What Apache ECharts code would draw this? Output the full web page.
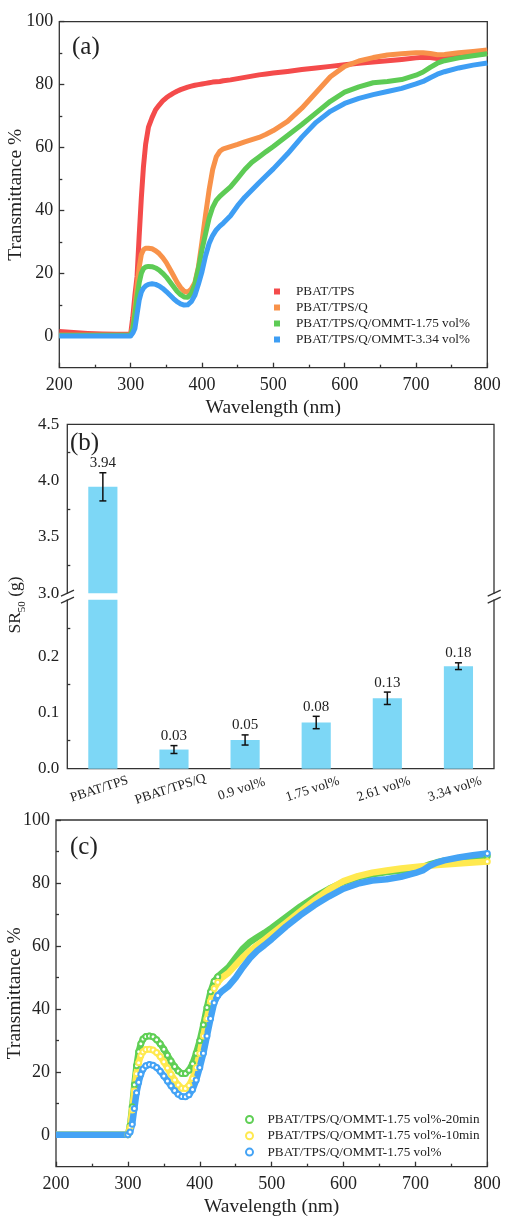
<!DOCTYPE html>
<html>
<head>
<meta charset="utf-8">
<script src="https://cdn.jsdelivr.net/npm/echarts@6/dist/echarts.min.js"></script>
<style>
  html, body { margin: 0; padding: 0; background: #fff; }
  #chart { width: 505px; height: 1217px; }
</style>
</head>
<body>
<div id="chart"></div>
<script>
let serif = '"Liberation Serif", "Times New Roman", serif';
let ink = '#222';
let frame = '#333';

// wavelength sampling shared by panels (a) and (c), nm
const wavelengths = [200, 220, 240, 260, 280, 300, 303, 306, 309, 312, 315, 318, 321,
  325, 330, 335, 340, 345, 350, 355, 360, 365, 370, 375, 380, 385, 390, 395, 400, 405,
  410, 415, 420, 425, 430, 440, 450, 460, 470, 480, 490, 500, 520, 540, 560, 580, 600,
  620, 640, 660, 680, 700, 710, 720, 730, 740, 760, 780, 800];

const transLabels = [0, 20, 40, 60, 80, 100];
const transMinor = [10, 30, 50, 70, 90];

// (a) transmittance %
const namesA = ['PBAT/TPS', 'PBAT/TPS/Q', 'PBAT/TPS/Q/OMMT-1.75 vol%', 'PBAT/TPS/Q/OMMT-3.34 vol%'];
const colorsA = ['#F44B4B', '#F8924A', '#5DCB55', '#3E9EF4'];
const pbatTps = [1.5, 1.2, 0.9, 0.7, 0.6, 0.6, 6, 13, 19, 32, 44, 54, 61,
  66.5, 69.5, 72, 73.5, 74.8, 75.8, 76.6, 77.3, 77.9, 78.4, 78.8, 79.2, 79.5, 79.8, 80, 80.2, 80.4,
  80.6, 80.8, 80.9, 81, 81.2, 81.5, 81.9, 82.3, 82.7, 83.1, 83.4, 83.7, 84.2, 84.8, 85.3, 85.8, 86.3,
  86.8, 87.2, 87.6, 88, 88.5, 88.7, 88.6, 88.3, 88.3, 88.8, 89.4, 90];
const pbatTpsQ = [0.3, 0.3, 0.3, 0.3, 0.3, 0.3, 3, 9, 16, 22, 26, 27.5, 28,
  28, 27.8, 27.2, 26.3, 25, 23.4, 21.4, 19.3, 17.2, 15.5, 14.3, 14, 15, 17, 22, 30, 38.5,
  46.5, 53, 57, 58.8, 59.6, 60.3, 61, 61.8, 62.5, 63.2, 64.2, 65.4, 68.3, 72.5, 77.5, 82.5, 85.8,
  87.5, 88.6, 89.4, 89.8, 90.1, 90.1, 89.9, 89.5, 89.6, 90.1, 90.5, 91];
const ommt175 = [0.3, 0.3, 0.3, 0.3, 0.3, 0.3, 2.5, 7, 12.5, 17, 20, 21.5, 22,
  22.2, 22.1, 21.7, 21, 20, 18.8, 17.3, 15.8, 14.3, 13.2, 12.5, 12.4, 13.5, 16.5, 21.5, 27.5, 32.5,
  37.5, 41, 43.2, 44.5, 45.5, 47.5, 50.2, 53, 55.3, 57, 58.7, 60.3, 63.8, 67.3, 71, 74.7, 77.6,
  79.3, 80.6, 81, 81.6, 83, 84, 85.5, 86.8, 87.6, 88.5, 89.2, 89.8];
const ommt334 = [0.1, 0.1, 0.1, 0.1, 0.1, 0.1, 1, 2.5, 7, 11.5, 14, 15.3, 16,
  16.5, 16.7, 16.5, 16, 15.2, 14.2, 13.1, 12, 11, 10.3, 9.9, 10, 11, 13, 16.5, 20.5, 25.5,
  29.5, 32, 33.8, 35, 36, 38.3, 41.5, 44.2, 46.5, 48.8, 51, 53.2, 58, 63.3, 68, 71.5, 74,
  75.6, 76.8, 77.8, 78.8, 80.2, 81, 82.2, 83.3, 84.1, 85.3, 86.2, 86.9];

// (c) transmittance % ; trailing space keeps the last name distinct from panel (a)
const namesC = ['PBAT/TPS/Q/OMMT-1.75 vol%-20min', 'PBAT/TPS/Q/OMMT-1.75 vol%-10min', 'PBAT/TPS/Q/OMMT-1.75 vol% '];
const colorsC = ['#5FCF55', '#FFE94F', '#44A3F5'];
const min20 = [0.1, 0.1, 0.1, 0.1, 0.1, 0.1, 3, 9, 16, 22, 26.5, 29, 30.5,
  31.3, 31.5, 31.2, 30.3, 29, 27.3, 25.4, 23.5, 21.8, 20.4, 19.6, 19.6, 20.6, 22.7, 26, 30, 35,
  40.5, 45.5, 48.8, 50.3, 51.3, 53.3, 56.3, 59.2, 61.3, 62.8, 64.2, 65.8, 69.2, 72.6, 75.6, 78.2, 80.3,
  81.8, 82.8, 83.5, 84, 84.6, 85.1, 85.9, 86.6, 87.1, 87.7, 88.2, 88.6];
const min10 = [0.1, 0.1, 0.1, 0.1, 0.1, 0.1, 2.5, 8, 14, 19.5, 23, 25.3, 26.5,
  27.2, 27.3, 27, 26.2, 25, 23.3, 21.3, 19.3, 17.5, 15.9, 14.9, 14.8, 15.8, 18, 21.5, 26, 31.5,
  37, 42.5, 46.5, 48.5, 49.8, 51.5, 54, 56.5, 58.5, 60.3, 62, 63.8, 67.4, 71, 74.6, 78, 80.6,
  82.2, 83.3, 84, 84.6, 85.1, 85.3, 85.5, 85.7, 85.9, 86.2, 86.5, 86.8];
const min0 = [0.1, 0.1, 0.1, 0.1, 0.1, 0.1, 1, 3.5, 8.5, 13.5, 16.8, 19.3, 21,
  22, 22.4, 22.2, 21.5, 20.3, 18.8, 17.2, 15.7, 14.2, 13, 12.3, 12.2, 12.8, 14.5, 17.5, 21.5, 26,
  31.5, 37, 42, 44.3, 45.5, 47.3, 50, 53.3, 56.2, 58.5, 60.3, 62.2, 66.2, 69.8, 73, 75.8, 78.2,
  79.8, 80.8, 81.2, 82, 83.2, 84, 85.5, 86.5, 87.2, 88.1, 88.8, 89.4];

// (b) SR50 bars
const barCategories = ['PBAT/TPS', 'PBAT/TPS/Q', '0.9 vol%', '1.75 vol%', '2.61 vol%', '3.34 vol%'];
const sr50 = [3.945, 0.034, 0.051, 0.082, 0.125, 0.182];
const sr50Err = [0.125, 0.007, 0.009, 0.011, 0.011, 0.006];
const sr50Text = ['3.94', '0.03', '0.05', '0.08', '0.13', '0.18'];

const lowTop = 0.3, highBottom = 3.0;

let tickLine = { color: frame, width: 1.3 };

function waveAxis(g) {
  return {
    type: 'value', gridIndex: g, min: 200, max: 800, interval: 100,
    name: 'Wavelength (nm)', nameLocation: 'middle', nameGap: 30, nameMoveOverlap: false,
    nameTextStyle: { fontFamily: serif, fontSize: 19.5, color: ink },
    axisLine: { show: false, onZero: false },
    axisTick: { inside: true, length: 5, lineStyle: tickLine },
    minorTick: { show: true, splitNumber: 2, length: 3, lineStyle: tickLine },
    axisLabel: { fontFamily: serif, fontSize: 18, color: ink, margin: 9 },
    splitLine: { show: false }
  };
}

function transAxis(g, gap) {
  return {
    type: 'value', gridIndex: g, min: -10, max: 100, position: 'left',
    name: 'Transmittance %', nameLocation: 'middle', nameGap: gap, nameMoveOverlap: false,
    nameTextStyle: { fontFamily: serif, fontSize: 19.5, color: ink },
    axisLine: { show: false },
    axisTick: { inside: true, length: 5, customValues: transLabels, lineStyle: tickLine },
    axisLabel: { customValues: transLabels, fontFamily: serif, fontSize: 18, color: ink, margin: 6 },
    splitLine: { show: false }
  };
}

function transMinorAxis(g) {
  return {
    type: 'value', gridIndex: g, min: -10, max: 100, position: 'left',
    axisLine: { show: false }, axisLabel: { show: false }, splitLine: { show: false },
    axisTick: { inside: true, length: 3, customValues: transMinor, lineStyle: tickLine }
  };
}

function srAxis(g, min, max) {
  return {
    type: 'value', gridIndex: g, min: min, max: max, interval: min === 0 ? 0.1 : 0.5,
    axisLine: { show: false },
    axisTick: { inside: true, length: 5, lineStyle: tickLine },
    minorTick: { show: true, splitNumber: 2, length: 3, lineStyle: tickLine },
    axisLabel: {
      fontFamily: serif, fontSize: 17, color: ink, margin: 8,
      showMaxLabel: min !== 0,
      formatter: function (v) { return v.toFixed(1); }
    },
    splitLine: { show: false }
  };
}

function errorSeries(xi, yi, keep) {
  return {
    type: 'custom', xAxisIndex: xi, yAxisIndex: yi, z: 5,
    data: sr50.map(function (v, i) { return [i, v, sr50Err[i]]; }).filter(keep),
    renderItem: function (params, api) {
      let i = api.value(0), v = api.value(1), e = api.value(2);
      let hi = api.coord([i, v + e]), lo = api.coord([i, v - e]);
      let x = hi[0];
      let s = { stroke: '#111', lineWidth: 1.5 };
      return {
        type: 'group',
        children: [
          { type: 'line', shape: { x1: x, y1: hi[1], x2: x, y2: lo[1] }, style: s },
          { type: 'line', shape: { x1: x - 3.5, y1: hi[1], x2: x + 3.5, y2: hi[1] }, style: s },
          { type: 'line', shape: { x1: x - 3.5, y1: lo[1], x2: x + 3.5, y2: lo[1] }, style: s },
          { type: 'text', x: x, y: hi[1] - 2,
            style: { text: sr50Text[i], align: 'center', verticalAlign: 'bottom',
                     fontFamily: serif, fontSize: 15, fill: ink } }
        ]
      };
    }
  };
}

let seriesA = [pbatTps, pbatTpsQ, ommt175, ommt334].map(function (vals, k) {
  return {
    name: namesA[k], type: 'line', xAxisIndex: 0, yAxisIndex: 0, color: colorsA[k],
    data: wavelengths.map(function (w, i) { return [w, vals[i]]; }),
    showSymbol: false, lineStyle: { width: 5, join: 'round' }
  };
});

let seriesC = [min20, min10, min0].map(function (vals, k) {
  return {
    name: namesC[k], type: 'line', xAxisIndex: 4, yAxisIndex: 5, color: colorsC[k],
    data: wavelengths.map(function (w, i) { return [w, vals[i]]; }),
    showSymbol: true,
    symbol: function (v) {
      return (v[0] >= 300 && v[0] <= 425) || v[0] === 800 ? 'emptyCircle' : 'none';
    },
    symbolSize: 5, itemStyle: { borderWidth: 2 },
    lineStyle: { width: 6.5, join: 'round' }
  };
});

let barColor = '#7DD7F6';
let seriesB = [
  { type: 'bar', xAxisIndex: 1, yAxisIndex: 2, data: sr50, barWidth: '41%', clip: true,
    itemStyle: { color: barColor } },
  { type: 'bar', xAxisIndex: 2, yAxisIndex: 3, data: sr50, barWidth: '41%', clip: true,
    itemStyle: { color: barColor } },
  errorSeries(1, 2, function (d) { return d[1] > highBottom; }),
  errorSeries(2, 3, function (d) { return d[1] < lowTop; })
];

// axis-break marks on the (b) frame
let breakMarks = [];
[67.3, 494].forEach(function (x) {
  breakMarks.push({ type: 'rect', z: 100, shape: { x: x - 4, y: 594, width: 8, height: 5.4 }, style: { fill: '#fff' } });
  breakMarks.push({ type: 'line', z: 101, shape: { x1: x - 6.3, y1: 596.2, x2: x + 6.7, y2: 590.2 }, style: { stroke: frame, lineWidth: 1.3 } });
  breakMarks.push({ type: 'line', z: 101, shape: { x1: x - 6.3, y1: 603.2, x2: x + 6.7, y2: 597.2 }, style: { stroke: frame, lineWidth: 1.3 } });
});

function panelTag(text, x, y) {
  return { type: 'text', x: x, y: y, z: 100,
    style: { text: text, fontFamily: serif, fontSize: 25, fill: ink, verticalAlign: 'middle' } };
}

let border = { show: true, borderColor: frame, borderWidth: 1.3, backgroundColor: 'transparent',
  containLabel: false, outerBoundsMode: 'none' };
let plain = { containLabel: false, outerBoundsMode: 'none' };

let chart = echarts.init(document.getElementById('chart'));
chart.setOption({
  animation: false,
  backgroundColor: '#fff',
  grid: [
    Object.assign({ left: 59.3, top: 21.7, width: 428, height: 346 }, border),
    Object.assign({ left: 67.3, top: 424.3, width: 426.7, height: 169 }, plain),
    Object.assign({ left: 67.3, top: 599.7, width: 426.7, height: 169 }, plain),
    Object.assign({ left: 67.3, top: 424.3, width: 426.7, height: 344.4 }, border),
    Object.assign({ left: 56, top: 820, width: 431.3, height: 346.7 }, border)
  ],
  xAxis: [
    waveAxis(0),
    { type: 'category', gridIndex: 1, data: barCategories, show: false },
    { type: 'category', gridIndex: 2, data: barCategories,
      axisLine: { show: false }, axisTick: { show: false },
      axisLabel: { interval: 0, rotate: 18, align: 'center', verticalAlign: 'top', margin: 12,
                   padding: [0, 12, 0, 0], hideOverlap: false,
                   fontFamily: serif, fontSize: 13.5, color: ink } },
    { type: 'value', gridIndex: 3, show: false },
    waveAxis(4)
  ],
  yAxis: [
    transAxis(0, 33),
    transMinorAxis(0),
    srAxis(1, highBottom, 4.5),
    srAxis(2, 0, lowTop),
    { type: 'value', gridIndex: 3, min: 0, max: 1,
      axisLine: { show: false }, axisTick: { show: false }, axisLabel: { show: false }, splitLine: { show: false },
      name: '{a|SR}{s|50}{a| (g)}', nameLocation: 'middle', nameGap: 40, nameMoveOverlap: false,
      nameTextStyle: {
        fontFamily: serif, fontSize: 17.5, color: ink, padding: [0, 17, 0, 0],
        rich: {
          a: { fontFamily: serif, fontSize: 17.5, color: ink, lineHeight: 24, verticalAlign: 'middle' },
          s: { fontFamily: serif, fontSize: 11, color: ink, lineHeight: 11, verticalAlign: 'bottom' }
        }
      } },
    transAxis(4, 31),
    transMinorAxis(4)
  ],
  legend: [
    { data: namesA.map(function (n) { return { name: n, icon: 'path://M0 0H10V10H0Z' }; }),
      orient: 'vertical', left: 274, top: 285, padding: 0, itemWidth: 28, itemHeight: 6, itemGap: 3,
      selectedMode: false, textStyle: { fontFamily: serif, fontSize: 13.2, color: ink } },
    { data: namesC.map(function (n) { return { name: n, icon: 'emptyCircle' }; }),
      orient: 'vertical', left: 245, top: 1113, padding: 0, itemWidth: 26, itemHeight: 7, itemGap: 3.3,
      selectedMode: false, textStyle: { fontFamily: serif, fontSize: 13.2, color: ink } }
  ],
  graphic: breakMarks.concat([
    panelTag('(a)', 72, 47),
    panelTag('(b)', 70, 443),
    panelTag('(c)', 70, 847)
  ]),
  series: seriesA.concat(seriesB, seriesC)
});
</script>
</body>
</html>
